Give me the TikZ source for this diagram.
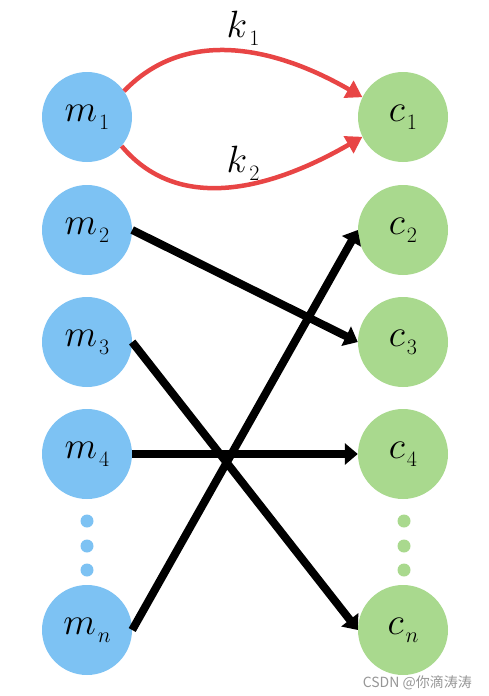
\RequirePackage{fix-cm}
\documentclass[tikz,border=0pt]{standalone}
\usepackage{fontspec}
\newfontfamily\cjkfont{Noto Sans CJK SC}
\usetikzlibrary{arrows.meta}
\definecolor{mblue}{RGB}{125,194,243}
\definecolor{cgreen}{RGB}{169,217,142}
\definecolor{kred}{RGB}{232,69,69}
\definecolor{wmgray}{RGB}{150,150,150}
\newcommand{\lbl}[2]{{\fontsize{38}{38}\selectfont$#1$}\hspace{2pt}\raisebox{-8pt}{\fontsize{22}{22}\selectfont$#2$}}
\tikzset{
  mnode/.style={circle,fill=mblue,minimum size=90pt,inner sep=0pt},
  cnode/.style={circle,fill=cgreen,minimum size=90pt,inner sep=0pt},
  mdot/.style={circle,fill=mblue,minimum size=13pt,inner sep=0pt},
  cdot/.style={circle,fill=cgreen,minimum size=13pt,inner sep=0pt},
  blk/.style={line width=8pt,-{Triangle[length=13pt,width=21pt]}},
  redarc/.style={draw=kred,line width=4.5pt,-{Triangle[length=16pt,width=19pt]}},
}
\begin{document}
\begin{tikzpicture}[x=1pt,y=-1pt]
\useasboundingbox (0,0) rectangle (488,696);
\node[mnode] (m1) at (87,117) {\lbl{m}{\mathrm{1}}};
\node[mnode] (m2) at (87,230) {\lbl{m}{\mathrm{2}}};
\node[mnode] (m3) at (87,342) {\lbl{m}{\mathrm{3}}};
\node[mnode] (m4) at (87,454) {\lbl{m}{\mathrm{4}}};
\node[mnode] (mn) at (87,630) {\lbl{m}{n}};
\node[cnode] (c1) at (403,117) {\lbl{c}{\mathrm{1}}};
\node[cnode] (c2) at (403,230) {\lbl{c}{\mathrm{2}}};
\node[cnode] (c3) at (403,342) {\lbl{c}{\mathrm{3}}};
\node[cnode] (c4) at (403,454) {\lbl{c}{\mathrm{4}}};
\node[cnode] (cn) at (403,630) {\lbl{c}{n}};
\node[mdot] (md1) at (87,521) {};
\node[mdot] (md2) at (87,546) {};
\node[mdot] (md3) at (87,570) {};
\node[cdot] (cd1) at (404,521) {};
\node[cdot] (cd2) at (404,546) {};
\node[cdot] (cd3) at (404,570) {};
\draw[blk] (m2.east) -- (c3.west);
\draw[blk] (m3.east) -- (cn.west);
\draw[blk] (m4.east) -- (c4.west);
\draw[blk] (mn.east) -- (c2.west);
\draw[redarc] (m1.35) to[out=46,in=150] (c1.154);
\draw[redarc] (m1.-40) to[out=-50,in=-150] (c1.-154);
\node (k1) at (243,28) {\lbl{k}{\mathrm{1}}};
\node (k2) at (243,163) {\lbl{k}{\mathrm{2}}};
\node[text=wmgray,anchor=base east,inner sep=0pt] (wm) at (472,687) {\cjkfont\fontsize{14}{14}\selectfont CSDN @你滴涛涛};
\end{tikzpicture}
\end{document}
